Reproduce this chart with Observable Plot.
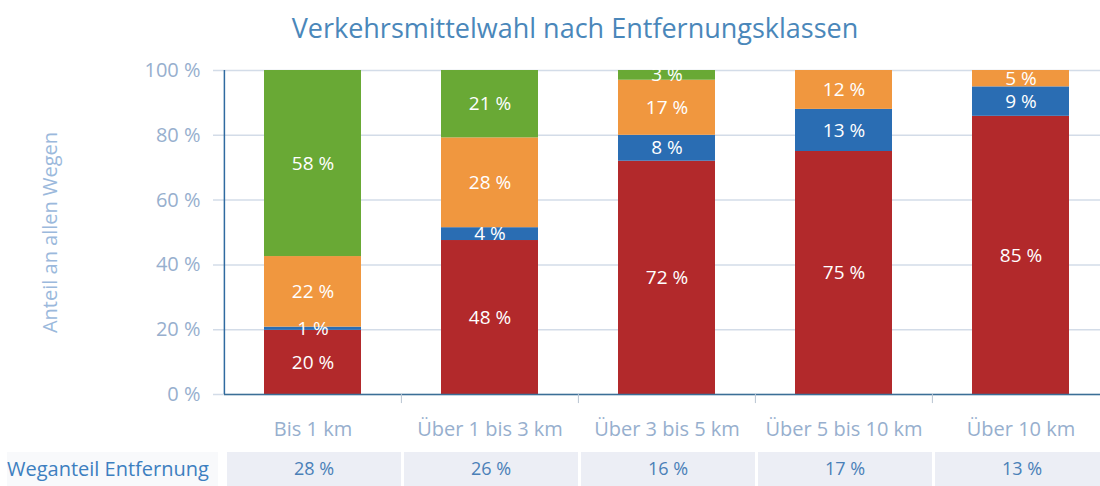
<!DOCTYPE html>
<html>
<head>
<meta charset="utf-8">
<script src="https://cdn.jsdelivr.net/npm/d3@7"></script>
<script src="https://cdn.jsdelivr.net/npm/@observablehq/plot@0.6"></script>
<style>
  html, body { margin: 0; padding: 0; background: #fff; overflow: hidden; }
  #title { height: 52px; box-sizing: border-box; padding-top: 9px; padding-left: 50px; text-align: center;
           font-family: "Open Sans", sans-serif; font-size: 27px; color: #4a87ba; white-space: nowrap; }
  #row { display: flex; height: 34px; }
  #rowlabel { margin-left: 7px; width: 211px; background: #f8f9fb; font-family: "Open Sans", sans-serif;
              font-size: 20px; font-weight: 500; color: #3d7fc0; line-height: 34px; white-space: nowrap; overflow: hidden; }
  svg { overflow: hidden; }
</style>
</head>
<body>
<div id="title">Verkehrsmittelwahl nach Entfernungsklassen</div>
<div id="chart"></div>
<div id="row"><div id="rowlabel">Weganteil Entfernung</div><div id="rowplot"></div></div>
<script>
// Data
const categories = ["Bis 1 km", "Über 1 bis 3 km", "Über 3 bis 5 km", "Über 5 bis 10 km", "Über 10 km"];
const modes = ["MIV", "ÖV", "Rad", "Fuß"];
const miv = [20, 48, 72, 75, 85];
const oev = [1, 4, 8, 13, 9];
const rad = [22, 28, 17, 12, 5];
const fuss = [58, 21, 3, 0, 0];
const weganteil = [28, 26, 16, 17, 13];
const yTicks = [0, 0.2, 0.4, 0.6, 0.8, 1];
const yLabel = "Anteil an allen Wegen";
const modeColors = ["#b2292b", "#2a6db3", "#f0973f", "#69a935"];

const series = [miv, oev, rad, fuss];
const data = [];
categories.forEach((c, i) => {
  modes.forEach((m, j) => data.push({cat: c, mode: m, value: series[j][i]}));
});
const labelData = data.filter(d => d.value > 0);

const W = 1100;
const mLeft = 224, mRight = -10;
const step = (W - mRight - mLeft) / categories.length;

const chart = Plot.plot({
  width: W,
  height: 400,
  marginTop: 18,
  marginBottom: 58,
  marginLeft: mLeft,
  marginRight: mRight,
  style: {fontFamily: "Open Sans, sans-serif", fontSize: "20px", color: "#97afce", background: "white", overflow: "hidden"},
  x: {domain: categories, paddingInner: 0.45, paddingOuter: 0.225, tickSize: 0, tickPadding: 27, label: null},
  y: {domain: [0, 1], ticks: yTicks, tickFormat: d => Math.round(d * 100) + " %", tickSize: 0, tickPadding: 24, label: null},
  color: {domain: modes, range: modeColors},
  marks: [
    Plot.ruleY(yTicks, {stroke: "#d3dce8", strokeWidth: 1.5, insetLeft: -11}),
    Plot.barY(data, Plot.stackY({x: "cat", y: "value", z: "mode", fill: "mode", offset: "normalize"})),
    Plot.text(labelData, Plot.stackY({x: "cat", y: "value", z: "mode", text: d => d.value + " %", offset: "normalize",
      fill: "white", fontSize: 19})),
    Plot.ruleY([0], {stroke: "#3b6f97", strokeWidth: 1.5}),
    Plot.ruleX([categories[0]], {x: d => d, dx: -step / 2, y1: 0, y2: 1, stroke: "#2f6aa0", strokeWidth: 1.5}),
    Plot.ruleX(categories.slice(1), {x: d => d, dx: -step / 2, y1: 0, y2: -0.028, stroke: "#b8c4d2", strokeWidth: 1}),
    Plot.text([yLabel], {text: d => d, frameAnchor: "left", textAnchor: "middle", rotate: -90, dx: -174, fill: "#9bb9dc", fontSize: 20})
  ]
});
document.getElementById("chart").appendChild(chart);

const rowData = categories.map((c, i) => ({cat: c, share: weganteil[i]}));
const rowPlot = Plot.plot({
  width: W - 218,
  height: 34,
  marginTop: 0, marginBottom: 0,
  marginLeft: 6, marginRight: mRight,
  style: {fontFamily: "Open Sans, sans-serif", fontSize: "18px", background: "white", overflow: "hidden"},
  x: {domain: categories, padding: 0, axis: null},
  marks: [
    Plot.cell(rowData, {x: "cat", fill: "#eceef5", insetLeft: 2, insetRight: 1}),
    Plot.text(rowData, {x: "cat", text: d => d.share + " %", fill: "#4a80b8", fontSize: 18})
  ]
});
document.getElementById("rowplot").appendChild(rowPlot);
</script>
</body>
</html>
